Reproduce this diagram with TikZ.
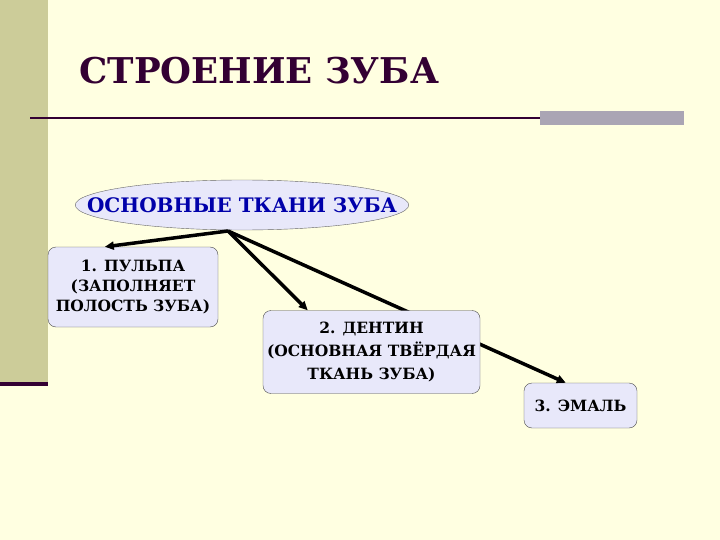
\documentclass[tikz,border=0pt]{standalone}
\usepackage{fontspec}
\setmainfont{DejaVu Serif}
\usetikzlibrary{arrows.meta,positioning,shapes.geometric,calc}

\definecolor{slidebg}{RGB}{255,255,225}
\definecolor{bandcol}{RGB}{204,204,153}
\definecolor{titlecol}{RGB}{51,0,51}
\definecolor{rulegray}{RGB}{170,165,180}
\definecolor{boxfill}{RGB}{232,232,250}
\definecolor{ovaltext}{RGB}{0,0,170}

\begin{document}
\begin{tikzpicture}[
  x=1pt, y=-1pt,
  tissue/.style={draw=black!70, rounded corners=8pt, fill=boxfill, font=\bfseries\fontsize{15.5}{20}\selectfont,
                 align=center, inner sep=0pt},
  oval/.style={ellipse, draw=black!60, fill=boxfill, inner xsep=-37pt, inner ysep=0pt, minimum height=50,
               font=\bfseries\fontsize{20}{24}\selectfont, text=ovaltext},
  arr/.style={-{Triangle[length=9pt, width=8pt]}, line width=3.5pt, black}
]
\useasboundingbox (0,0) rectangle (720,540);
\fill[slidebg] (0,0) rectangle (720,540);

% left band and title rule
\fill[bandcol] (0,0) rectangle (48,382);
\fill[titlecol] (0,382) rectangle (48,386);
\draw[line width=2pt, titlecol] (30,118) -- (540,118);
\fill[rulegray] (540,111) rectangle (684,125);

\node[anchor=base west, text=titlecol, font=\bfseries\fontsize{35.5}{40}\selectfont] (title) at (76,84) {СТРОЕНИЕ ЗУБА};

% tissues
\node[oval] (tissues) at (242,205) {ОСНОВНЫЕ ТКАНИ ЗУБА};
\coordinate (src) at (228,231);

\node[tissue, minimum width=170, minimum height=80] (pulp) at (133,287) {1. ПУЛЬПА\\(ЗАПОЛНЯЕТ\\ПОЛОСТЬ ЗУБА)};
\node[tissue, minimum width=113, minimum height=45] (enamel) at (580.5,405.5) {3. ЭМАЛЬ};

\draw[arr] (src) -- ($(enamel.north west)+(42,0)$);
\node[tissue, minimum width=217, minimum height=83, font=\bfseries\fontsize{15.5}{23}\selectfont] (dentin) at (371.5,352) {2. ДЕНТИН\\(ОСНОВНАЯ ТВЁРДАЯ\\ТКАНЬ ЗУБА)};

\draw[arr] (src) -- ($(pulp.north west)+(57,0)$);
\draw[arr] (src) -- ($(dentin.north west)+(45,0)$);
\end{tikzpicture}
\end{document}
